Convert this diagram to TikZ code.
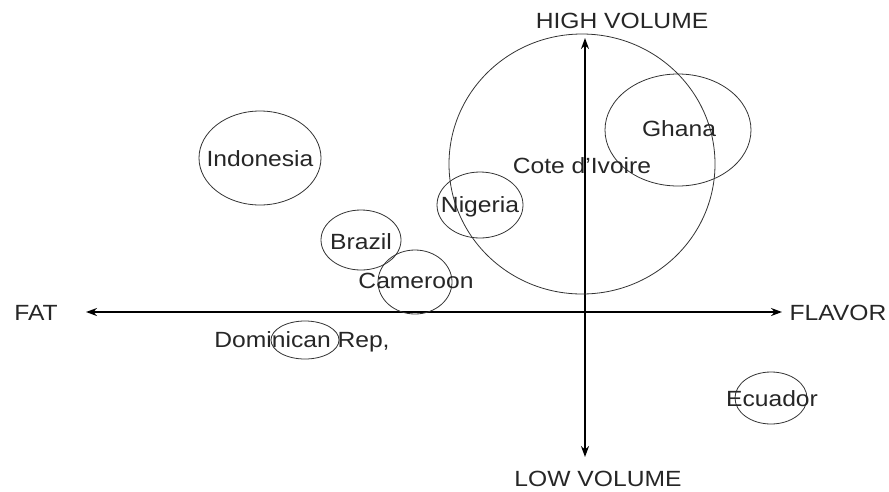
\documentclass[tikz,border=0pt]{standalone}
\usepackage{fontspec}
\setmainfont[FakeStretch=1.12]{Liberation Sans}
\usetikzlibrary{arrows.meta}
\begin{document}
\begin{tikzpicture}[x=1pt,y=-1pt,
  lbl/.style={font=\fontsize{22}{25}\selectfont, inner sep=0pt, text=black!85},
  bub/.style={draw=black!80, line width=0.8pt},
  axis/.style={line width=2.4pt, -{Stealth[length=11pt,width=8pt]}}]
\useasboundingbox (0,0) rectangle (889,491);
\coordinate (o) at (585,312);
\coordinate (left) at (86,312);
\coordinate (right) at (782,312);
\coordinate (top) at (585,38);
\coordinate (bottom) at (585,457);
\draw[axis] (o) -- (left);
\draw[axis] (o) -- (right);
\draw[axis] (o) -- (top);
\draw[axis] (o) -- (bottom);
\node[lbl] (fat) at (36,313) {FAT};
\node[lbl] (flavor) at (838,313) {FLAVOR};
\node[lbl] (high) at (622,21) {HIGH VOLUME};
\node[lbl] (low) at (598,479) {LOW VOLUME};
% bubbles
\draw[bub] (260,158) ellipse [x radius=61, y radius=47];
\draw[bub] (582,164) ellipse [x radius=133, y radius=130];
\draw[bub] (678,130) ellipse [x radius=73, y radius=56];
\draw[bub] (480,205) ellipse [x radius=43, y radius=33];
\draw[bub] (361,240) ellipse [x radius=40, y radius=30];
\draw[bub] (415,282) ellipse [x radius=37, y radius=32];
\draw[bub] (305,340) ellipse [x radius=34, y radius=19];
\draw[bub] (771,398) ellipse [x radius=36, y radius=26];
% labels
\node[lbl] (indonesia) at (260,159) {Indonesia};
\node[lbl] (cote) at (582,166) {Cote d'Ivoire};
\node[lbl] (ghana) at (679,129) {Ghana};
\node[lbl] (nigeria) at (480,207) {Nigeria};
\node[lbl] (brazil) at (361,242) {Brazil};
\node[lbl] (cameroon) at (416,281) {Cameroon};
\node[lbl] (dominican) at (302,342) {Dominican Rep,};
\node[lbl] (ecuador) at (772,399) {Ecuador};
\end{tikzpicture}
\end{document}
